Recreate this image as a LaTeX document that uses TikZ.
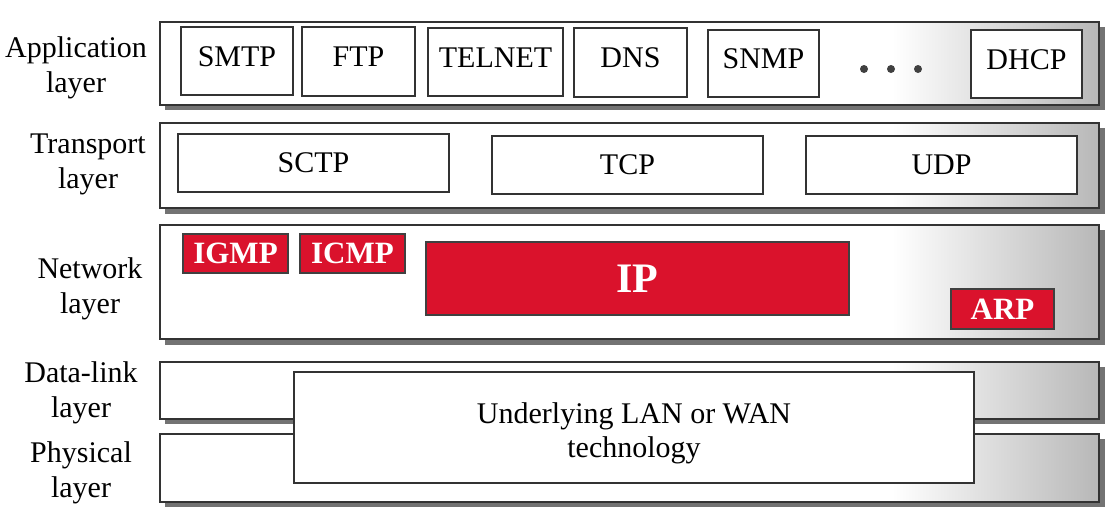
\documentclass[tikz,border=0pt]{standalone}
\usepackage{fontspec}
\setmainfont{Liberation Serif}
\definecolor{protored}{RGB}{218,18,44}
\pgfdeclarehorizontalshading{layershade}{100bp}{color(0bp)=(white); color(25bp)=(white); color(64bp)=(white); color(75bp)=(black!28); color(100bp)=(black!28)}
\begin{document}
\begin{tikzpicture}[x=1pt,y=-1pt,
  layer/.style={draw=black!80, line width=1.3pt, shading=layershade},
  lshadow/.style={fill=black!55, draw=none},
  proto/.style={draw=black!80, line width=1.2pt, fill=white, inner sep=0pt, font=\fontsize{30}{36}\selectfont},
  approto/.style={proto, text height=20pt, text depth=10pt},
  redproto/.style={draw=black!75, line width=1.2pt, fill=protored, text=white, inner sep=0pt, font=\fontsize{31}{36}\selectfont\bfseries},
  lbl/.style={align=center, font=\fontsize{30}{35}\selectfont, inner sep=0pt},
  dot/.style={circle, fill=black!75, inner sep=0pt, minimum size=8pt}
]
\useasboundingbox[fill=white] (0,0) rectangle (1120,528);

% layer shadows and boxes
\path[lshadow] (165,27) rectangle (1105,110);
\path[layer] (160,22) rectangle (1099,105);
\path[lshadow] (165,128) rectangle (1105,214);
\path[layer] (160,123) rectangle (1099,208);
\path[lshadow] (165,230) rectangle (1105,345);
\path[layer] (160,225) rectangle (1099,339);
\path[lshadow] (165,367) rectangle (1105,424);
\path[layer] (160,362) rectangle (1099,419);
\path[lshadow] (165,439) rectangle (1105,507);
\path[layer] (160,434) rectangle (1099,502);

% layer labels
\node[lbl] (lapp) at (76,67.5) {Application\\layer};
\node[lbl] (ltra) at (88,164.5) {Transport\\layer};
\node[lbl] (lnet) at (90,288.5) {Network\\layer};
\node[lbl] (ldl)  at (81,392.5) {Data-link\\layer};
\node[lbl] (lphy) at (81,472.5) {Physical\\layer};

% application layer
\node[approto, minimum width=112pt, minimum height=68pt] (smtp) at (237,61) {SMTP};
\node[approto, minimum width=113pt, minimum height=69pt] (ftp) at (358.5,61.5) {FTP};
\node[approto, minimum width=135pt, minimum height=68pt] (telnet) at (495.5,62) {TELNET};
\node[approto, minimum width=113pt, minimum height=69pt] (dns) at (630.5,62.5) {DNS};
\node[approto, minimum width=111pt, minimum height=67pt] (snmp) at (763.5,63.5) {SNMP};
\node[dot] (d1) at (864,69) {};
\node[dot] (d2) at (891,69) {};
\node[dot] (d3) at (918,69) {};
\node[approto, minimum width=111pt, minimum height=68pt] (dhcp) at (1026.5,64) {DHCP};

% transport layer
\node[proto, minimum width=271pt, minimum height=58pt] (sctp) at (313.5,163) {SCTP};
\node[proto, minimum width=271pt, minimum height=58pt] (tcp) at (627.5,165) {TCP};
\node[proto, minimum width=271pt, minimum height=58pt] (udp) at (941.5,165) {UDP};

% network layer
\node[redproto, minimum width=105pt, minimum height=39pt] (igmp) at (235.5,253.5) {IGMP};
\node[redproto, minimum width=105pt, minimum height=39pt] (icmp) at (352.5,253.5) {ICMP};
\node[redproto, minimum width=423pt, minimum height=73pt, font=\fontsize{42}{48}\selectfont\bfseries] (ip) at (637.5,278.5) {IP};
\node[redproto, minimum width=103pt, minimum height=40pt] (arp) at (1002.5,309) {ARP};

% underlying technology
\node[proto, minimum width=680pt, minimum height=111pt] (lan) at (634,427.5) {};
\node[lbl, font=\fontsize{30}{34}\selectfont] (lantext) at (634,433) {Underlying LAN or WAN\\technology};
\end{tikzpicture}
\end{document}
